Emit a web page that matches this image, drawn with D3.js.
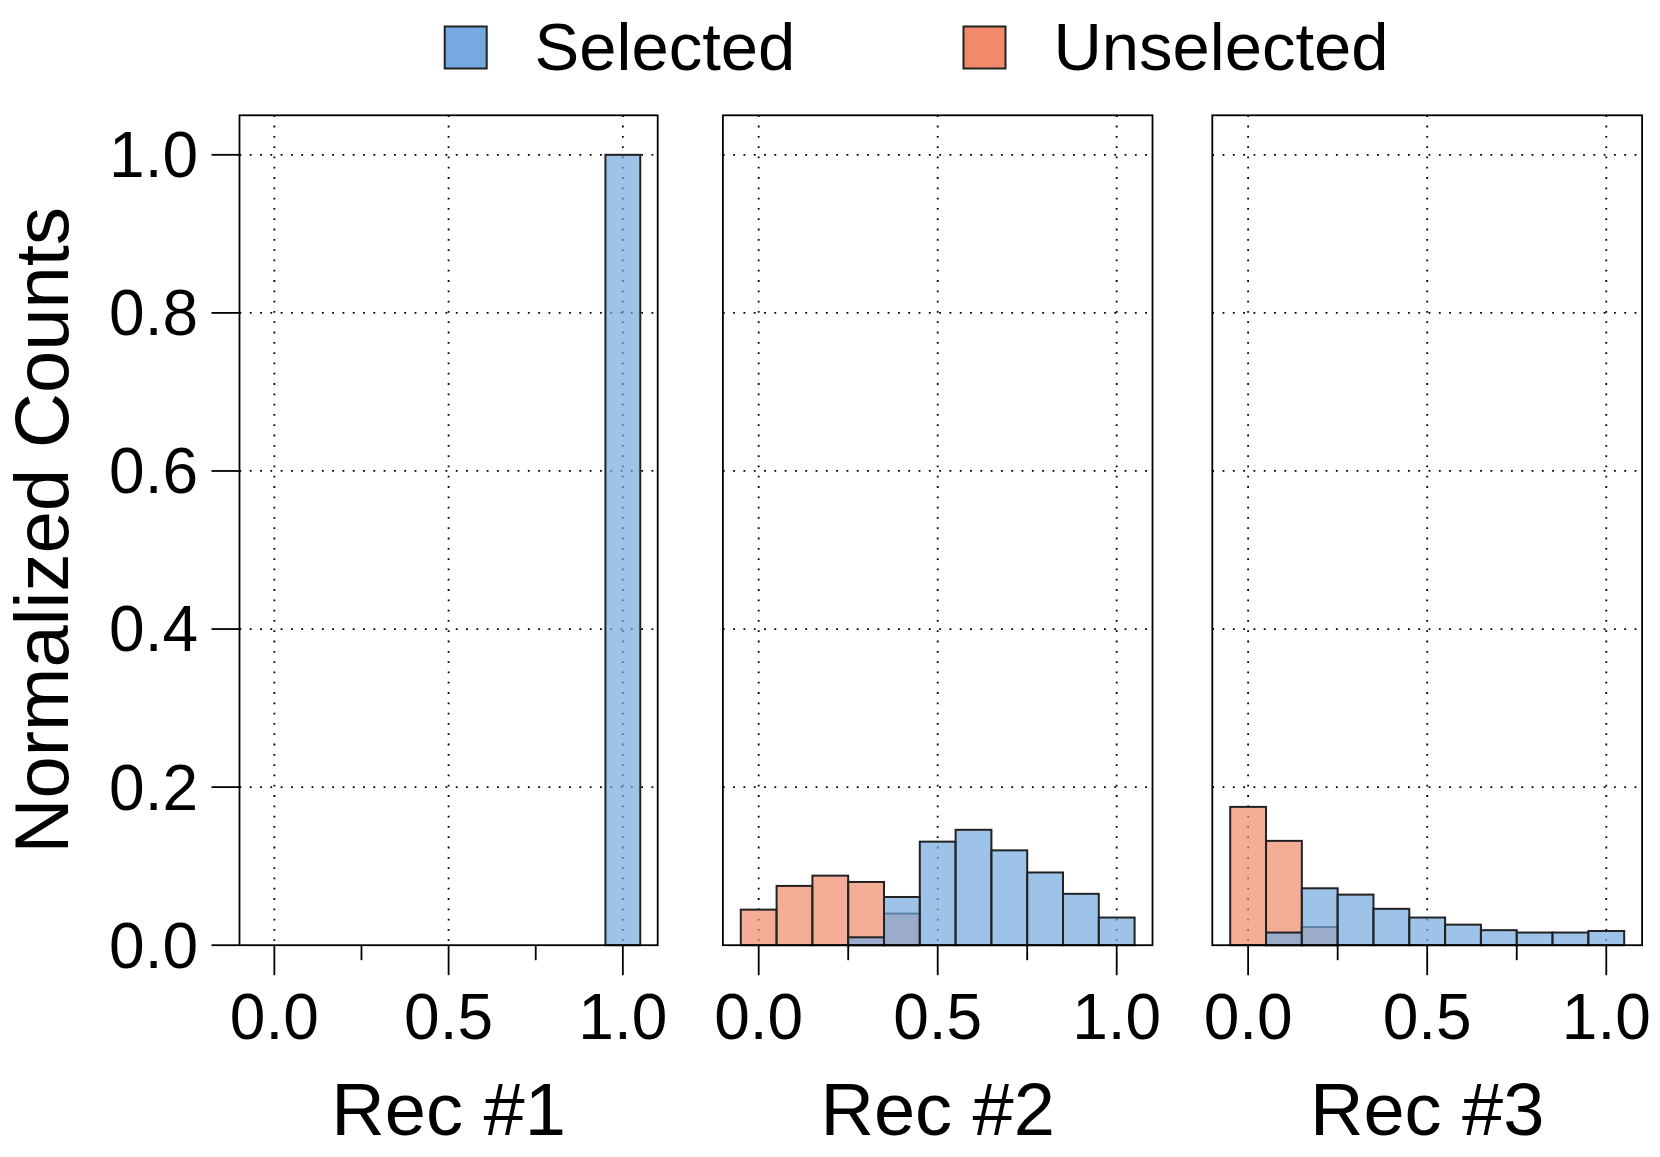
<!DOCTYPE html>
<html><head><meta charset="utf-8">
<script src="https://cdn.jsdelivr.net/npm/d3@7"></script>
<style>body{margin:0;background:#fff}svg{display:block;font-family:"Liberation Sans",Arial,Helvetica,sans-serif}</style>
</head><body>
<svg id="c" width="1660" height="1157"></svg>
<script>
// ---- data ----
const binCenters = [0.0, 0.1, 0.2, 0.3, 0.4, 0.5, 0.6, 0.7, 0.8, 0.9, 1.0];
const binWidth = 0.1;
const panelTitles = ["Rec #1", "Rec #2", "Rec #3"];
const seriesNames = ["Selected", "Unselected"];
const rec1Selected   = [0, 0, 0, 0, 0, 0, 0, 0, 0, 0, 1.0];
const rec1Unselected = [0, 0, 0, 0, 0, 0, 0, 0, 0, 0, 0];
const rec2Selected   = [0, 0, 0, 0.010, 0.061, 0.131, 0.146, 0.120, 0.092, 0.065, 0.035];
const rec2Unselected = [0.045, 0.075, 0.088, 0.080, 0.040, 0, 0, 0, 0, 0, 0];
const rec3Selected   = [0, 0.016, 0.072, 0.064, 0.046, 0.035, 0.026, 0.019, 0.016, 0.016, 0.018];
const rec3Unselected = [0.175, 0.132, 0.023, 0, 0, 0, 0, 0, 0, 0, 0];
const xTicks = [0, 0.5, 1.0];
const xMinorTicks = [0.25, 0.75];
const xTickLabels = ["0.0", "0.5", "1.0"];
const yTicks = [0, 0.2, 0.4, 0.6, 0.8, 1.0];
const yTickLabels = ["0.0", "0.2", "0.4", "0.6", "0.8", "1.0"];
const yTitle = "Normalized Counts";

// ---- layout / style ----
const colSel = "#75a9df", colUns = "#f08a6a";
const barAlpha = 0.7;
const panelsX = [[239.5, 657.7], [722.9, 1152.5], [1212.3, 1642.1]];
const plotTop = 115.3, plotBottom = 945.2;
const svg = d3.select("#c");
const y = d3.scaleLinear().domain([0, 1.05]).range([plotBottom, plotTop]);

const panelData = [
  {sel: rec1Selected, uns: rec1Unselected},
  {sel: rec2Selected, uns: rec2Unselected},
  {sel: rec3Selected, uns: rec3Unselected}
];

panelData.forEach((pd, i) => {
  const [l, r] = panelsX[i];
  const x = d3.scaleLinear().domain([-0.1, 1.1]).range([l, r]);
  const g = svg.append("g");

  // grid
  g.selectAll(".vg").data(xTicks).join("line")
    .attr("x1", d => x(d)).attr("x2", d => x(d)).attr("y1", plotTop).attr("y2", plotBottom)
    .attr("stroke", "#000").attr("stroke-width", 1.8).attr("stroke-dasharray", "1.8,8.5");
  g.selectAll(".hg").data(yTicks.filter(d => d > 0)).join("line")
    .attr("x1", l).attr("x2", r).attr("y1", d => y(d)).attr("y2", d => y(d))
    .attr("stroke", "#000").attr("stroke-width", 1.8).attr("stroke-dasharray", "1.8,8.5");

  // bars: unselected first, selected on top
  [[pd.uns, colUns], [pd.sel, colSel]].forEach(([vals, col]) => {
    const rows = binCenters.map((c, k) => ({c, v: vals[k]})).filter(d => d.v > 0);
    g.selectAll(null).data(rows).join("rect")
      .attr("x", d => x(d.c - binWidth / 2))
      .attr("width", d => x(d.c + binWidth / 2) - x(d.c - binWidth / 2))
      .attr("y", d => y(d.v))
      .attr("height", d => y(0) - y(d.v))
      .attr("fill", col).attr("fill-opacity", barAlpha)
      .attr("stroke", "#222").attr("stroke-width", 2);
  });

  // box
  g.append("rect").attr("x", l).attr("y", plotTop).attr("width", r - l).attr("height", plotBottom - plotTop)
    .attr("fill", "none").attr("stroke", "#000").attr("stroke-width", 1.8);

  // x axis ticks
  g.selectAll(".xt").data(xTicks).join("line")
    .attr("x1", d => x(d)).attr("x2", d => x(d)).attr("y1", plotBottom).attr("y2", plotBottom + 30)
    .attr("stroke", "#000").attr("stroke-width", 1.8);
  g.selectAll(".xmt").data(xMinorTicks).join("line")
    .attr("x1", d => x(d)).attr("x2", d => x(d)).attr("y1", plotBottom).attr("y2", plotBottom + 15)
    .attr("stroke", "#000").attr("stroke-width", 1.8);
  g.selectAll(".xl").data(xTicks).join("text")
    .attr("x", d => x(d)).attr("y", 1039).attr("text-anchor", "middle")
    .attr("font-size", 64).text((d, k) => xTickLabels[k]);

  g.append("text").attr("x", (l + r) / 2).attr("y", 1135).attr("text-anchor", "middle")
    .attr("font-size", 74).text(panelTitles[i]);

  if (i === 0) {
    g.selectAll(".yt").data(yTicks).join("line")
      .attr("x1", l - 28).attr("x2", l).attr("y1", d => y(d)).attr("y2", d => y(d))
      .attr("stroke", "#000").attr("stroke-width", 1.8);
    g.selectAll(".yl").data(yTicks).join("text")
      .attr("x", 198).attr("y", d => y(d)).attr("dy", "0.35em").attr("text-anchor", "end")
      .attr("font-size", 64).text((d, k) => yTickLabels[k]);
    g.append("text").attr("transform", `translate(68,${(plotTop + plotBottom) / 2}) rotate(-90)`)
      .attr("text-anchor", "middle").attr("font-size", 76).text(yTitle);
  }
});

// legend
const legend = [
  {name: seriesNames[0], col: colSel, sx: 444.7, tx: 534.6},
  {name: seriesNames[1], col: colUns, sx: 963.5, tx: 1053.4}
];
const lg = svg.append("g");
lg.selectAll("rect").data(legend).join("rect")
  .attr("x", d => d.sx).attr("y", 26.5).attr("width", 42).attr("height", 42)
  .attr("fill", d => d.col).attr("stroke", "#222").attr("stroke-width", 2);
lg.selectAll("text").data(legend).join("text")
  .attr("x", d => d.tx).attr("y", 70).attr("font-size", 67).text(d => d.name);
</script>
</body></html>
